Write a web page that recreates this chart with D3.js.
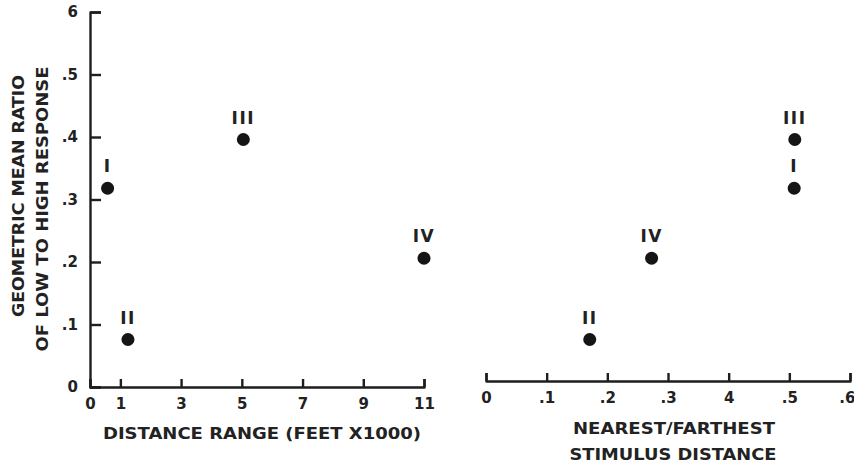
<!DOCTYPE html>
<html lang="en">
<head>
	<meta charset="UTF-8">
	<title>Geometric mean ratio</title>
	<style>
		body { margin: 0; background: #fff; }
		.Axis path,
		.Axis line {
			stroke: #1e1e1e;
			stroke-width: 2.4px;
			fill: none;
		}
		.Axis text {
			font-family: "DejaVu Sans", sans-serif;
			font-weight: bold;
			font-size: 15px;
			fill: #222;
		}
		.title {
			font-family: "DejaVu Sans", sans-serif;
			font-weight: bold;
			font-size: 16px;
			fill: #222;
		}
		.mark-label {
			font-family: "DejaVu Sans", sans-serif;
			font-weight: 600;
			font-size: 17px;
			fill: #222;
			letter-spacing: 1.5px;
		}
	</style>
	<script src="https://d3js.org/d3.v7.min.js"></script>
</head>
<body>
	<script type="text/javascript">

		// conditions I..IV
		const groups = ["I", "II", "III", "IV"];
		const distRange = [0.58, 1.25, 5.05, 11.0];     // feet x 1000
		const ratio = [0.318, 0.076, 0.396, 0.206];     // geometric mean ratio low/high
		const nearFar = [0.508, 0.171, 0.509, 0.273];   // nearest/farthest stimulus distance

		const yTicks = [0, 0.1, 0.2, 0.3, 0.4, 0.5, 0.6];
		const yTickLabels = ["0", ".1", ".2", ".3", ".4", ".5", "6"];
		const xTicksL = [0, 1, 3, 5, 7, 9, 11];
		const xTickLabelsL = ["0", "1", "3", "5", "7", "9", "11"];
		const xTicksR = [0, 0.1, 0.2, 0.3, 0.4, 0.5, 0.6];
		const xTickLabelsR = ["0", ".1", ".2", ".3", "4", ".5", ".6"];

		const w = 854,
			  h = 465;

		const svg = d3.select("body")
			.append("svg")
			.attr("width", w)
			.attr("height", h);

		var yScale = d3.scaleLinear().domain([0, 0.6]).range([387, 12]);
		var xLeft = d3.scaleLinear().domain([0, 11]).range([90, 424]);
		var xRight = d3.scaleLinear().domain([0, 0.6]).range([486, 850]);

		// left panel axes
		svg.append("g")
		   .attr("class", "Axis y")
		   .attr("transform", "translate(" + xLeft(0) + ",0)")
		   .call(d3.axisLeft(yScale)
			   .tickValues(yTicks)
			   .tickFormat((d, i) => yTickLabels[i])
			   .tickSizeInner(-11).tickSizeOuter(-11)
			   .tickPadding(12));

		svg.append("g")
		   .attr("class", "Axis x")
		   .attr("transform", "translate(0," + yScale(0) + ")")
		   .call(d3.axisBottom(xLeft)
			   .tickValues(xTicksL)
			   .tickFormat((d, i) => xTickLabelsL[i])
			   .tickSizeInner(-8).tickSizeOuter(-8)
			   .tickPadding(11));

		// right panel axis
		var xAxisR = svg.append("g")
		   .attr("class", "Axis x2")
		   .attr("transform", "translate(0,381)")
		   .call(d3.axisBottom(xRight)
			   .tickValues(xTicksR)
			   .tickFormat((d, i) => xTickLabelsR[i])
			   .tickSizeInner(-8).tickSizeOuter(-8)
			   .tickPadding(11));

		// keep the last label inside the frame
		xAxisR.selectAll(".tick text").filter(d => d === 0.6).attr("text-anchor", "end").attr("dx", "5");

		svg.selectAll(".Axis .domain").attr("stroke-linejoin", "round");

		// points
		const pts = groups.map((g, i) => ({g: g, a: distRange[i], b: nearFar[i], y: ratio[i]}));

		svg.append("g").selectAll("circle.l")
		   .data(pts).enter()
		   .append("circle")
		   .attr("cx", d => xLeft(d.a))
		   .attr("cy", d => yScale(d.y))
		   .attr("r", 6.5)
		   .attr("fill", "#151515");

		svg.append("g").selectAll("text")
		   .data(pts).enter()
		   .append("text")
		   .attr("class", "mark-label")
		   .attr("text-anchor", "middle")
		   .attr("x", d => xLeft(d.a))
		   .attr("y", d => yScale(d.y) - 16)
		   .text(d => d.g);

		svg.append("g").selectAll("circle.r")
		   .data(pts).enter()
		   .append("circle")
		   .attr("cx", d => xRight(d.b))
		   .attr("cy", d => yScale(d.y))
		   .attr("r", 6.5)
		   .attr("fill", "#151515");

		svg.append("g").selectAll("text")
		   .data(pts).enter()
		   .append("text")
		   .attr("class", "mark-label")
		   .attr("text-anchor", "middle")
		   .attr("x", d => xRight(d.b))
		   .attr("y", d => yScale(d.y) - 16)
		   .text(d => d.g);

		// titles
		function title(x, y, len, txt, rot) {
			svg.append("text")
			   .attr("class", "title")
			   .attr("text-anchor", "middle")
			   .attr("transform", "translate(" + x + "," + y + ")" + (rot ? " rotate(-90)" : ""))
			   .attr("dy", "0.36em")
			   .attr("textLength", len)
			   .attr("lengthAdjust", "spacingAndGlyphs")
			   .text(txt);
		}

		title(18, 196, 242, "GEOMETRIC MEAN RATIO", true);
		title(42, 209, 285, "OF LOW TO HIGH RESPONSE", true);
		title(262, 433, 318, "DISTANCE RANGE (FEET X1000)", false);
		title(674, 428, 202, "NEAREST/FARTHEST", false);
		title(673, 454, 207, "STIMULUS DISTANCE", false);

	</script>
</body>
</html>
